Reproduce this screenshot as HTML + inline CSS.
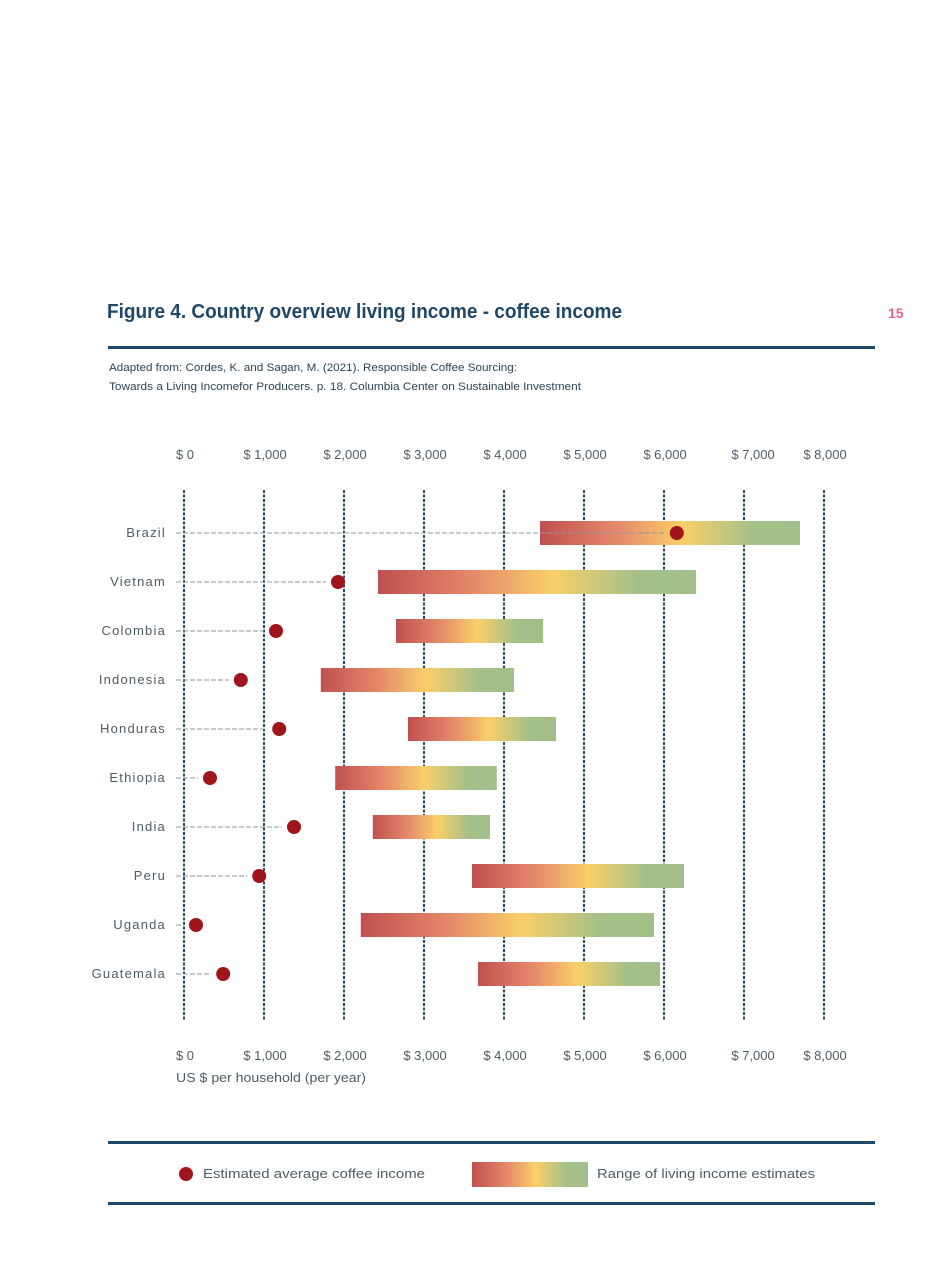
<!DOCTYPE html>
<html><head><meta charset="utf-8">
<style>
html,body{margin:0;padding:0;background:#fff;}
svg{display:block;font-family:"Liberation Sans",sans-serif;}
</style></head>
<body>
<svg id="chart" width="945" height="1276" viewBox="0 0 945 1276" xmlns="http://www.w3.org/2000/svg">
<defs>
<linearGradient id="grad" x1="0" x2="1" y1="0" y2="0">
<stop offset="0" stop-color="#c0504f"/>
<stop offset="0.3" stop-color="#e5896b"/>
<stop offset="0.55" stop-color="#f9cf69"/>
<stop offset="0.82" stop-color="#a3c08a"/>
<stop offset="1" stop-color="#a1bf88"/>
</linearGradient>
</defs>
<text x="107" y="318" font-size="20" font-weight="bold" fill="#1f4767" textLength="515" lengthAdjust="spacingAndGlyphs">Figure 4. Country overview living income - coffee income</text>
<text x="888" y="318" font-size="14" font-weight="bold" fill="#e0638e">15</text>
<rect x="108" y="346" width="767" height="3" fill="#1f4767"/>
<text x="109" y="371" font-size="11" fill="#2b4556" textLength="408" lengthAdjust="spacingAndGlyphs">Adapted from: Cordes, K. and Sagan, M. (2021). Responsible Coffee Sourcing:</text>
<text x="109" y="390" font-size="11" fill="#2b4556" textLength="472" lengthAdjust="spacingAndGlyphs">Towards a Living Incomefor Producers. p. 18. Columbia Center on Sustainable Investment</text>
<g id="grid"></g>
<g id="marks"></g>
<text x="176" y="1082" font-size="13" fill="#4d5b63" textLength="190" lengthAdjust="spacingAndGlyphs">US $ per household (per year)</text>
<rect x="108" y="1141" width="767" height="3" fill="#1f4767"/>
<rect x="108" y="1202" width="767" height="3" fill="#1f4767"/>
<circle cx="186" cy="1174" r="7" fill="#a0151b"/>
<text x="203" y="1178" font-size="13" fill="#4d5b63" textLength="222" lengthAdjust="spacingAndGlyphs">Estimated average coffee income</text>
<rect x="472" y="1162" width="116" height="25" fill="url(#grad)"/>
<text x="597" y="1178" font-size="13" fill="#4d5b63" textLength="218" lengthAdjust="spacingAndGlyphs">Range of living income estimates</text>
</svg>
<script>
const countries = ["Brazil","Vietnam","Colombia","Indonesia","Honduras","Ethiopia","India","Peru","Uganda","Guatemala"];
const rangeLow = [4450,2425,2650,1710,2800,1890,2360,3600,2210,3675];
const rangeHigh = [7700,6400,4490,4125,4650,3910,3825,6250,5875,5950];
const coffeeIncome = [6160,1925,1150,710,1190,325,1375,940,150,490];
const ticks = [0,1000,2000,3000,4000,5000,6000,7000,8000];
const tickLabels = ["$ 0","$ 1,000","$ 2,000","$ 3,000","$ 4,000","$ 5,000","$ 6,000","$ 7,000","$ 8,000"];

const NS = "http://www.w3.org/2000/svg";
const x = v => 184 + v * 0.08;
const y = i => 533 + i * 49;
function mk(tag, attrs, parent){const e=document.createElementNS(NS,tag);for(const k in attrs)e.setAttribute(k,attrs[k]);parent.appendChild(e);return e;}
const grid = document.getElementById("grid");
const marks = document.getElementById("marks");
ticks.forEach((t,i)=>{
  const l = mk("line",{x1:x(t),x2:x(t),y1:490,y2:1021,stroke:"#2b4a5f","stroke-width":2,"stroke-dasharray":"3,1.5"},grid);
  
  
  const cx = x(t) + (t===7000?9:1);
  const a = mk("text",{x:cx,y:459,"font-size":13,fill:"#4d5b63","text-anchor":"middle"},grid);
  a.textContent = tickLabels[i];
  
  
  const b = mk("text",{x:cx,y:1060,"font-size":13,fill:"#4d5b63","text-anchor":"middle"},grid);
  b.textContent = tickLabels[i];
  
  
});
countries.forEach((c,i)=>{
  const cy = y(i);
  const lab = mk("text",{x:166,y:cy+4,"font-size":13,fill:"#4d5b63","text-anchor":"end","letter-spacing":"1.2"},marks);
  lab.textContent = c;
  
  
  const bar = mk("rect",{x:x(rangeLow[i]),y:cy-12,width:x(rangeHigh[i])-x(rangeLow[i]),height:24,fill:"url(#grad)"},marks);
  
  
  const ld = mk("line",{x1:176,x2:x(coffeeIncome[i])-12,y1:cy,y2:cy,stroke:"#8e979c","stroke-width":1,"stroke-dasharray":"5,2"},marks);
  
  
  const d = mk("circle",{cx:x(coffeeIncome[i]),cy:cy,r:7,fill:"#a0151b"},marks);
  
  
});
</script>
</body></html>
